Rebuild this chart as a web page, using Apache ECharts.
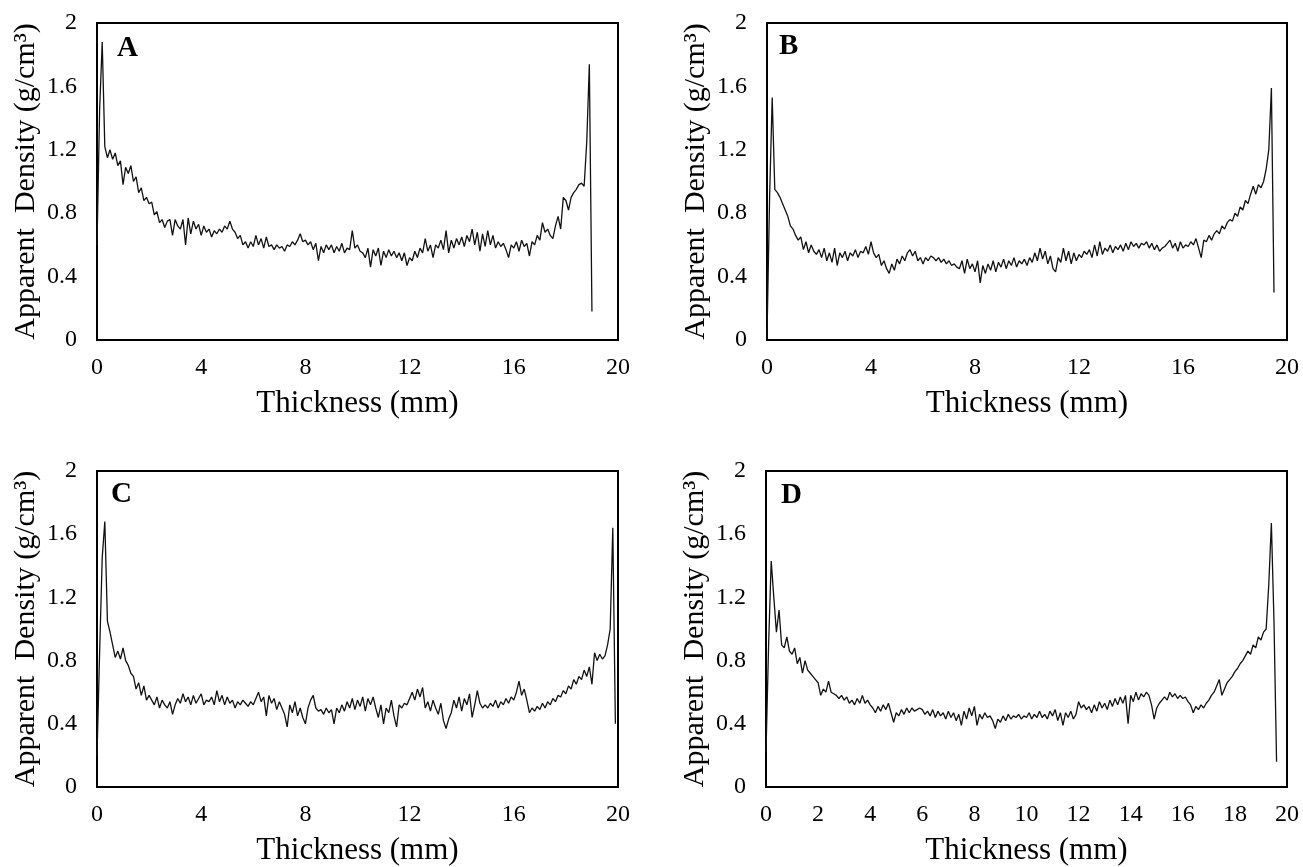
<!DOCTYPE html>
<html>
<head>
<meta charset="utf-8">
<title>Apparent density profiles</title>
<script src="https://cdn.jsdelivr.net/npm/echarts@6/dist/echarts.min.js"></script>
<style>
  html, body { margin: 0; padding: 0; background: #fff; }
  #main { width: 1303px; height: 867px; }
</style>
</head>
<body>
<div id="main"></div>
<script>
// thickness step between readings (mm)
const stepMm = 0.1;

const panelLetters = ['A', 'B', 'C', 'D'];
const xTickStep = [4, 4, 4, 2];
const yTicks = [0, 0.4, 0.8, 1.2, 1.6, 2];

// density readings (g/cm3) every 0.1 mm
const densityA = [
  0.60, 1.45, 1.88, 1.22, 1.15, 1.20, 1.14, 1.18, 1.10, 1.13,
  0.98, 1.09, 1.05, 1.10, 1.00, 1.03, 0.93, 0.96, 0.88, 0.90,
  0.86, 0.87, 0.79, 0.81, 0.74, 0.76, 0.71, 0.75, 0.76, 0.66,
  0.76, 0.72, 0.70, 0.76, 0.60, 0.77, 0.67, 0.75, 0.70, 0.73,
  0.66, 0.72, 0.68, 0.70, 0.65, 0.69, 0.67, 0.70, 0.68, 0.72,
  0.70, 0.75, 0.70, 0.68, 0.64, 0.66, 0.60, 0.62, 0.58, 0.62,
  0.59, 0.66, 0.60, 0.64, 0.58, 0.65, 0.59, 0.60, 0.57, 0.60,
  0.58, 0.59, 0.56, 0.60, 0.59, 0.62, 0.60, 0.63, 0.67, 0.62,
  0.63, 0.60, 0.62, 0.57, 0.61, 0.50, 0.59, 0.55, 0.60, 0.57,
  0.60, 0.55, 0.59, 0.56, 0.61, 0.55, 0.58, 0.57, 0.69, 0.58,
  0.60, 0.56, 0.55, 0.52, 0.58, 0.46, 0.57, 0.53, 0.58, 0.47,
  0.56, 0.52, 0.57, 0.53, 0.56, 0.52, 0.55, 0.50, 0.55, 0.47,
  0.52, 0.50, 0.56, 0.52, 0.58, 0.55, 0.64, 0.56, 0.60, 0.52,
  0.60, 0.58, 0.63, 0.57, 0.69, 0.55, 0.63, 0.58, 0.64, 0.60,
  0.65, 0.59, 0.66, 0.62, 0.70, 0.60, 0.68, 0.56, 0.67, 0.59,
  0.69, 0.60, 0.66, 0.58, 0.62, 0.59, 0.61, 0.57, 0.52, 0.60,
  0.58, 0.62, 0.56, 0.63, 0.59, 0.61, 0.53, 0.62, 0.60, 0.66,
  0.63, 0.74, 0.68, 0.70, 0.66, 0.64, 0.72, 0.78, 0.70, 0.90,
  0.88, 0.82, 0.90, 0.93, 0.95, 0.98, 0.99, 0.97, 1.25, 1.74,
  0.18
];

const densityB = [
  0.02, 0.90, 1.53, 0.95, 0.93, 0.90, 0.86, 0.82, 0.78, 0.72,
  0.70, 0.66, 0.63, 0.65, 0.57, 0.62, 0.55, 0.60, 0.56, 0.54,
  0.57, 0.52, 0.58, 0.50, 0.55, 0.49, 0.58, 0.47, 0.55, 0.52,
  0.56, 0.50, 0.55, 0.53, 0.57, 0.52, 0.56, 0.55, 0.59, 0.54,
  0.62, 0.55, 0.52, 0.54, 0.47, 0.50, 0.45, 0.42, 0.48, 0.44,
  0.51, 0.48, 0.53, 0.50, 0.55, 0.57, 0.53, 0.56, 0.50, 0.52,
  0.48, 0.52, 0.50, 0.53, 0.52, 0.50, 0.52, 0.49, 0.51, 0.48,
  0.50, 0.47, 0.48, 0.46, 0.45, 0.50, 0.42, 0.51, 0.45, 0.48,
  0.43, 0.50, 0.36, 0.47, 0.42, 0.48, 0.44, 0.50, 0.43, 0.49,
  0.46, 0.51, 0.45, 0.50, 0.47, 0.52, 0.46, 0.50, 0.48, 0.51,
  0.47, 0.52, 0.49, 0.55, 0.50, 0.58, 0.51, 0.56, 0.48, 0.53,
  0.45, 0.43, 0.52, 0.49, 0.58, 0.50, 0.56, 0.48, 0.55, 0.50,
  0.54, 0.52, 0.56, 0.54, 0.57, 0.52, 0.60, 0.53, 0.62, 0.54,
  0.58, 0.56, 0.60, 0.55, 0.59, 0.57, 0.60, 0.56, 0.61, 0.57,
  0.62, 0.59, 0.61, 0.58, 0.61, 0.60, 0.62, 0.58, 0.61, 0.57,
  0.60, 0.56, 0.58, 0.59, 0.61, 0.63, 0.58, 0.61, 0.56, 0.62,
  0.58, 0.60, 0.59, 0.62, 0.60, 0.64, 0.58, 0.52, 0.63, 0.62,
  0.66, 0.63, 0.67, 0.69, 0.67, 0.72, 0.70, 0.74, 0.76, 0.75,
  0.80, 0.78, 0.84, 0.82, 0.88, 0.86, 0.92, 0.97, 0.92, 0.98,
  0.96, 1.00, 1.08, 1.20, 1.59, 0.30
];

const densityC = [
  0.20, 0.85, 1.45, 1.68, 1.05, 0.98, 0.90, 0.82, 0.86, 0.81,
  0.88, 0.80, 0.77, 0.72, 0.70, 0.62, 0.66, 0.58, 0.64, 0.55,
  0.58, 0.55, 0.52, 0.57, 0.50, 0.55, 0.52, 0.50, 0.54, 0.46,
  0.52, 0.56, 0.53, 0.59, 0.54, 0.57, 0.52, 0.58, 0.53, 0.56,
  0.59, 0.52, 0.55, 0.54, 0.57, 0.52, 0.61, 0.54, 0.58, 0.52,
  0.57, 0.53, 0.55, 0.50, 0.54, 0.52, 0.55, 0.53, 0.51, 0.54,
  0.52, 0.56, 0.60, 0.54, 0.57, 0.45, 0.58, 0.53, 0.56, 0.49,
  0.54, 0.50, 0.46, 0.38, 0.52, 0.47, 0.54, 0.45, 0.50, 0.44,
  0.40, 0.50, 0.55, 0.58, 0.50, 0.48, 0.49, 0.46, 0.50, 0.47,
  0.49, 0.40, 0.50, 0.47, 0.52, 0.48, 0.54, 0.50, 0.56, 0.49,
  0.55, 0.51, 0.57, 0.48, 0.56, 0.52, 0.57, 0.50, 0.44, 0.52,
  0.40, 0.50, 0.47, 0.55, 0.45, 0.38, 0.52, 0.50, 0.53, 0.52,
  0.56, 0.60, 0.55, 0.62, 0.57, 0.63, 0.50, 0.54, 0.48, 0.55,
  0.50, 0.46, 0.53, 0.42, 0.37, 0.43, 0.47, 0.55, 0.50, 0.57,
  0.48, 0.56, 0.52, 0.59, 0.44, 0.52, 0.61, 0.53, 0.50, 0.52,
  0.50, 0.53, 0.51, 0.55, 0.50, 0.54, 0.52, 0.56, 0.53, 0.57,
  0.55, 0.60, 0.67, 0.58, 0.62, 0.55, 0.47, 0.50, 0.48, 0.51,
  0.49, 0.53, 0.50, 0.54, 0.52, 0.56, 0.54, 0.58, 0.57, 0.61,
  0.59, 0.64, 0.62, 0.68, 0.65, 0.70, 0.68, 0.74, 0.70, 0.76,
  0.65, 0.85, 0.80, 0.84, 0.81, 0.83, 0.90, 1.00, 1.64, 0.40
];

const densityD = [
  0.22, 0.90, 1.43, 1.20, 0.98, 1.12, 0.90, 0.88, 0.95, 0.86,
  0.84, 0.88, 0.78, 0.82, 0.72, 0.80, 0.74, 0.72, 0.70, 0.68,
  0.66, 0.58, 0.62, 0.60, 0.67, 0.60, 0.59, 0.58, 0.56, 0.58,
  0.55, 0.57, 0.53, 0.55, 0.52, 0.56, 0.53, 0.58, 0.53, 0.55,
  0.52, 0.50, 0.47, 0.51, 0.48, 0.52, 0.49, 0.53, 0.47, 0.41,
  0.47, 0.45, 0.49, 0.46, 0.50, 0.47, 0.50, 0.48, 0.49, 0.50,
  0.49, 0.46, 0.48, 0.45, 0.49, 0.44, 0.48, 0.45, 0.47, 0.43,
  0.48, 0.44, 0.47, 0.42, 0.46, 0.39, 0.48, 0.43, 0.50, 0.45,
  0.51, 0.39, 0.46, 0.43, 0.47, 0.44, 0.45, 0.42, 0.37, 0.43,
  0.41, 0.45, 0.42, 0.46, 0.43, 0.45, 0.44, 0.46, 0.43, 0.45,
  0.44, 0.47, 0.43, 0.46, 0.44, 0.48, 0.44, 0.46, 0.43, 0.48,
  0.45, 0.49, 0.42, 0.47, 0.39, 0.47, 0.44, 0.48, 0.43, 0.46,
  0.54, 0.50, 0.52, 0.49, 0.51, 0.47, 0.52, 0.48, 0.54, 0.50,
  0.53, 0.49, 0.55, 0.51, 0.56, 0.52, 0.57, 0.53, 0.58, 0.40,
  0.58, 0.54, 0.60, 0.55, 0.59, 0.57, 0.60, 0.58, 0.52, 0.43,
  0.50, 0.53, 0.55, 0.57, 0.55, 0.60, 0.57, 0.59, 0.56, 0.58,
  0.56, 0.57, 0.54, 0.52, 0.47, 0.51, 0.49, 0.52, 0.50, 0.53,
  0.55, 0.58, 0.60, 0.64, 0.68, 0.58, 0.62, 0.66, 0.68, 0.70,
  0.73, 0.75, 0.78, 0.80, 0.83, 0.86, 0.84, 0.90, 0.88, 0.95,
  0.93, 0.98, 1.00, 1.28, 1.67, 1.05, 0.16
];

const panelData = [densityA, densityB, densityC, densityD];

// plot boxes, px
const boxes = [
  { left: 97, top: 23, width: 521, height: 317 },
  { left: 767, top: 23, width: 520, height: 317 },
  { left: 97, top: 471, width: 521, height: 316 },
  { left: 766, top: 471, width: 521, height: 316 }
];
const letterPos = [[117, 50], [779, 48], [111, 496], [781, 497]];

const font = 'Liberation Serif';

let chart = echarts.init(document.getElementById('main'), null, { renderer: 'canvas' });

let grids = [], xAxes = [], yAxes = [], series = [], texts = [];
boxes.forEach((b, i) => {
  grids.push({
    left: b.left, top: b.top, width: b.width, height: b.height,
    show: true, borderColor: '#000', borderWidth: 2, backgroundColor: 'transparent'
  });
  xAxes.push({
    type: 'value', gridIndex: i, min: 0, max: 20, interval: xTickStep[i],
    name: 'Thickness (mm)', nameLocation: 'middle', nameGap: 48,
    nameTextStyle: { fontFamily: font, fontSize: 31, color: '#000' },
    axisLine: { show: false }, axisTick: { show: false }, splitLine: { show: false },
    axisLabel: { fontFamily: font, fontSize: 24, color: '#000', margin: 16 }
  });
  yAxes.push({
    type: 'value', gridIndex: i, min: yTicks[0], max: yTicks[yTicks.length - 1], interval: 0.4,
    name: 'Apparent  Density (g/cm³)', nameLocation: 'middle', nameGap: 56,
    nameTextStyle: { fontFamily: font, fontSize: 30, color: '#000' },
    axisLine: { show: false }, axisTick: { show: false }, splitLine: { show: false },
    axisLabel: { fontFamily: font, fontSize: 24, color: '#000', margin: 20 }
  });
  series.push({
    type: 'line', xAxisIndex: i, yAxisIndex: i,
    data: panelData[i].map((v, k) => [+(k * stepMm).toFixed(1), v]),
    showSymbol: false, animation: false,
    lineStyle: { color: '#111', width: 1.3 }
  });
  texts.push({
    type: 'text', left: letterPos[i][0], top: letterPos[i][1] - 16,
    style: { text: panelLetters[i], font: 'bold 29px "Liberation Serif"', fill: '#000' }
  });
});

chart.setOption({
  backgroundColor: '#fff',
  animation: false,
  grid: grids,
  xAxis: xAxes,
  yAxis: yAxes,
  series: series,
  graphic: texts
});
</script>
</body>
</html>
